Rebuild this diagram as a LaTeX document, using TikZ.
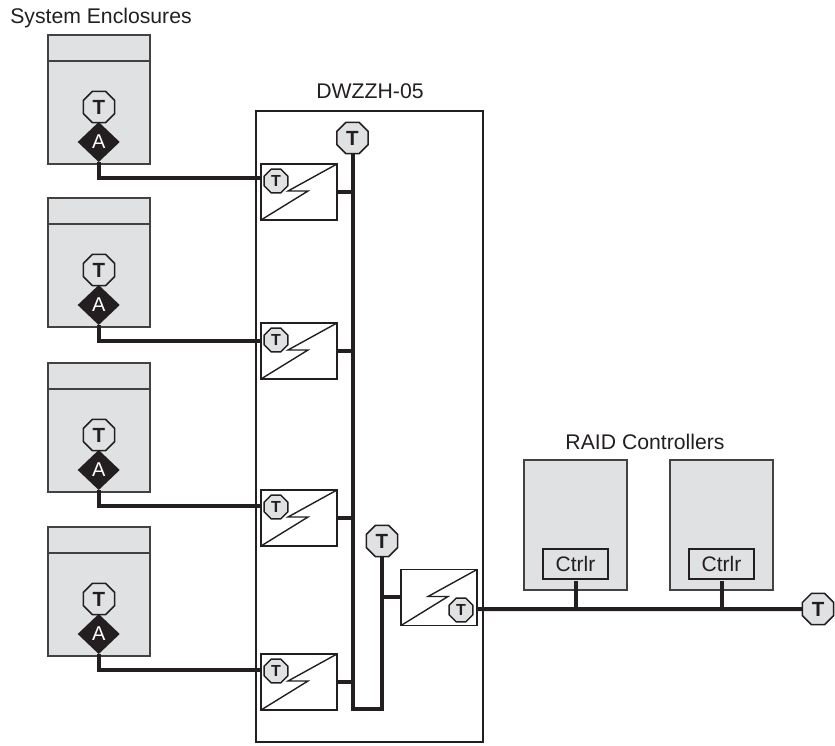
\documentclass[tikz,border=0pt]{standalone}
\usepackage{fontspec}
\setmainfont{Liberation Sans}
\usetikzlibrary{shapes.geometric}
\definecolor{ink}{HTML}{231F20}
\definecolor{panel}{HTML}{E0E1E3}
\tikzset{
  enclosure/.style={draw=ink!85,line width=1.3pt,fill=panel,minimum width=102pt,minimum height=129pt,inner sep=0pt,outer sep=0pt},
  ctrlbox/.style={draw=ink!85,line width=1.3pt,fill=panel,minimum width=103pt,minimum height=130pt,inner sep=0pt,outer sep=0pt},
  ctrlr/.style={draw=ink,line width=1.4pt,fill=panel,minimum width=65pt,minimum height=30pt,inner sep=0pt,outer sep=0pt,font=\fontsize{21}{23}\selectfont,text=ink},
  conv/.style={draw=ink,line width=1.4pt,fill=white,minimum width=76pt,minimum height=56pt,inner sep=0pt,outer sep=0pt},
  term/.style={regular polygon,regular polygon sides=8,draw=ink,line width=1.5pt,fill=panel,minimum size=34pt,inner sep=0pt,outer sep=0pt,font=\fontsize{20.5}{22}\selectfont\bfseries,text=ink},
  termsm/.style={term,minimum size=25.5pt,font=\fontsize{16}{18}\selectfont\bfseries},
  addr/.style={diamond,fill=ink,minimum width=42pt,minimum height=40pt,inner sep=0pt,outer sep=0pt,font=\fontsize{20}{22}\selectfont,text=white},
  bus/.style={draw=ink,line width=4pt,miter limit=10},
  bolt/.style={draw=ink,line width=1.4pt},
  lbl/.style={font=\fontsize{21.2}{23}\selectfont,text=ink,inner sep=0pt},
}
\begin{document}
\begin{tikzpicture}[x=1pt,y=-1pt]
\useasboundingbox (0,0) rectangle (835,745);
\node[lbl] (lsys) at (101,18) {System Enclosures};
\node[lbl] (ldw) at (370,91) {DWZZH-05};
\node[lbl] (lraid) at (645,442) {RAID Controllers};
% DWZZH box
\node[draw=ink,line width=1.5pt,fill=white,minimum width=227pt,minimum height=631pt,inner sep=0pt,outer sep=0pt] (dw) at (369.5,426.5) {};
% top terminators of the buses
\node[term] (tb1) at (352.5,138) {T};
\node[term] (tb2) at (382,541) {T};
\coordinate (busb) at (353,709);
\draw[bus] (tb1.south) -- (tb1.south |- busb) -- (tb2.south |- busb) -- (tb2.south);
% rows
\foreach \i/\e/\c in {1/35/164,2/198/323,3/363/490,4/527/654}{
  \node[enclosure] (e\i) at (99,\e+64.5) {};
  \draw[draw=ink!85,line width=1.3pt] ([yshift=-26pt]e\i.north west) -- ([yshift=-26pt]e\i.north east);
  \node[addr] (a\i) at (98.7,\e+107) {A};
  \node[term] (t\i) at (99,\e+72) {T};
  \node[conv] (c\i) at (299,\c+28) {};
  \draw[bolt] (c\i.south west) -- ++(47,-29) -- ++(-20,0) -- (c\i.north east);
  \node[termsm] (s\i) at (276,\c+17) {T};
  \coordinate (w\i) at (261,\e+143);
  \draw[bus] (a\i.south) |- (w\i);
  \coordinate (st\i) at (337,\c+28);
  \draw[bus] (st\i) -- (st\i -| tb1.south);
}
% output converter
\node[conv] (c5) at (439,597.5) {};
\draw[bolt] (c5.south west) -- ++(47,-29) -- ++(-20,0) -- (c5.north east);
\coordinate (st5) at (401,597);
\draw[bus] (st5 -| tb2.south) -- (st5);
% RAID controllers
\node[ctrlbox] (r1) at (575.5,525) {};
\node[ctrlbox] (r2) at (721.5,525) {};
\node[ctrlr] (k1) at (575.5,564) {Ctrlr};
\node[ctrlr] (k2) at (721.5,564) {Ctrlr};
\node[term] (te) at (818,609) {T};
\coordinate (m) at (477,609);
\draw[bus] (m) -- (te.west);
\draw[bus] ([yshift=-2pt]k1.south) -- (k1.south |- m);
\draw[bus] ([yshift=-2pt]k2.south) -- (k2.south |- m);
\node[termsm] (s5) at (461,610) {T};
\end{tikzpicture}
\end{document}
